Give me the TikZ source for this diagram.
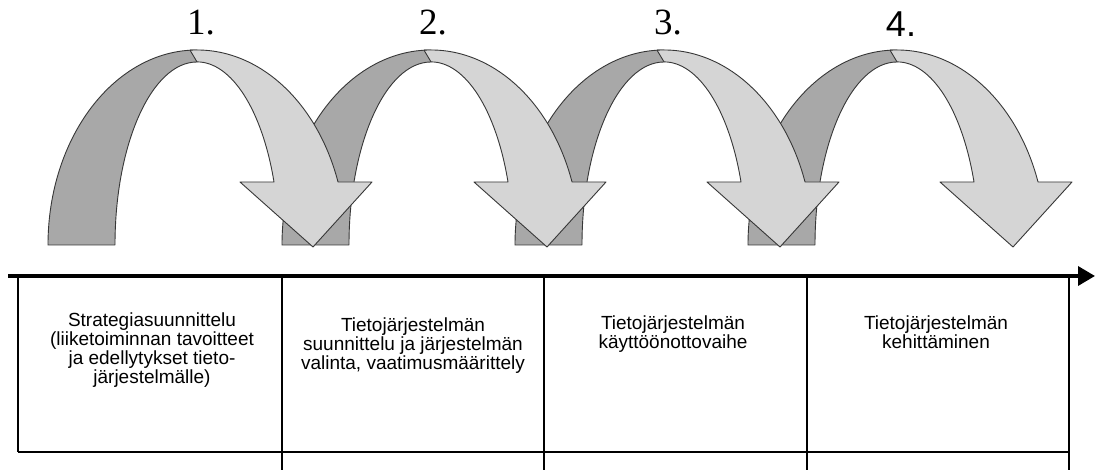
\documentclass[tikz,border=0pt]{standalone}
\usepackage{fontspec}
\setmainfont{Liberation Sans}
\newfontfamily\serifnum{Liberation Serif}
\usetikzlibrary{arrows.meta}
\definecolor{darkrib}{RGB}{168,168,168}
\definecolor{lightrib}{RGB}{213,213,213}
\definecolor{outl}{RGB}{55,55,55}
\newcommand\curvedarrow[1]{%
  % back (dark) half of the ribbon
  \filldraw[backrib] (#1,225)
    arc[start angle=180, end angle=90, x radius=149, y radius=195]
    -- (#1+149,408)
    arc[start angle=90, end angle=180, x radius=82, y radius=183] -- cycle;
  % front (light) half with arrow head
  \filldraw[frontrib] (#1+142,419.8)
    arc[start angle=92.7, end angle=18.85, x radius=149, y radius=195]
    -- (#1+324,288) -- (#1+265,223) -- (#1+192,288) -- (#1+226,288)
    arc[start angle=20.1, end angle=90, x radius=82, y radius=183] -- cycle;
}
\begin{document}
\begin{tikzpicture}[x=1pt,y=1pt,
  backrib/.style={fill=darkrib, draw=outl, line width=0.9pt, line join=round},
  frontrib/.style={fill=lightrib, draw=outl, line width=0.9pt, line join=round},
  numlbl/.style={anchor=base, inner sep=0pt},
  axisline/.style={line width=3.5pt, -{Triangle[length=17pt,width=19pt]}},
  gridline/.style={line width=2.4pt},
  celltext/.style={anchor=north, inner sep=0pt, align=center,
    font=\fontsize{19}{19.2}\selectfont}]
\useasboundingbox (0,0) rectangle (1096,470);
\fill[white] (0,0) rectangle (1096,470);

% curved arrows, drawn right to left so each front ribbon lies over the next back ribbon
\curvedarrow{748}
\curvedarrow{515}
\curvedarrow{282}
\curvedarrow{48}

% step numbers
\node[numlbl, font=\serifnum\fontsize{37}{37}\selectfont] (n1) at (201,435) {1.};
\node[numlbl, font=\serifnum\fontsize{37}{37}\selectfont] (n2) at (433,435) {2.};
\node[numlbl, font=\serifnum\fontsize{37}{37}\selectfont] (n3) at (668,435) {3.};
\node[numlbl, font=\fontsize{36}{36}\selectfont] (n4) at (901,433) {4.};

% time axis
\coordinate (axL) at (8,194);
\coordinate (axR) at (1095,194);
\draw[axisline] (axL) -- (axR);

% table grid
\coordinate (c0t) at (18,194);   \coordinate (c0b) at (18,18);
\coordinate (c1t) at (282,194);  \coordinate (c1b) at (282,0);
\coordinate (c2t) at (544,194);  \coordinate (c2b) at (544,0);
\coordinate (c3t) at (807,194);  \coordinate (c3b) at (807,0);
\coordinate (c4t) at (1069,194); \coordinate (c4b) at (1069,0);
\coordinate (rowL) at (18,18);   \coordinate (rowR) at (1069,18);
\draw[gridline] (c0t) -- (c0b);
\draw[gridline] (c1t) -- (c1b);
\draw[gridline] (c2t) -- (c2b);
\draw[gridline] (c3t) -- (c3b);
\draw[gridline] (c4t) -- (c4b);
\draw[line width=2pt] (rowL) -- (rowR);

% cell texts
\node[celltext] (t1) at (152,157.6) {Strategiasuunnittelu\\(liiketoiminnan tavoitteet\\ja edellytykset tieto-\\järjestelmälle)};
\node[celltext] (t2) at (413,152.6) {Tietojärjestelmän\\suunnittelu ja järjestelmän\\valinta, vaatimusmäärittely};
\node[celltext] (t3) at (673,154.6) {Tietojärjestelmän\\käyttöönottovaihe};
\node[celltext] (t4) at (936,154.6) {Tietojärjestelmän\\kehittäminen};
\end{tikzpicture}
\end{document}
